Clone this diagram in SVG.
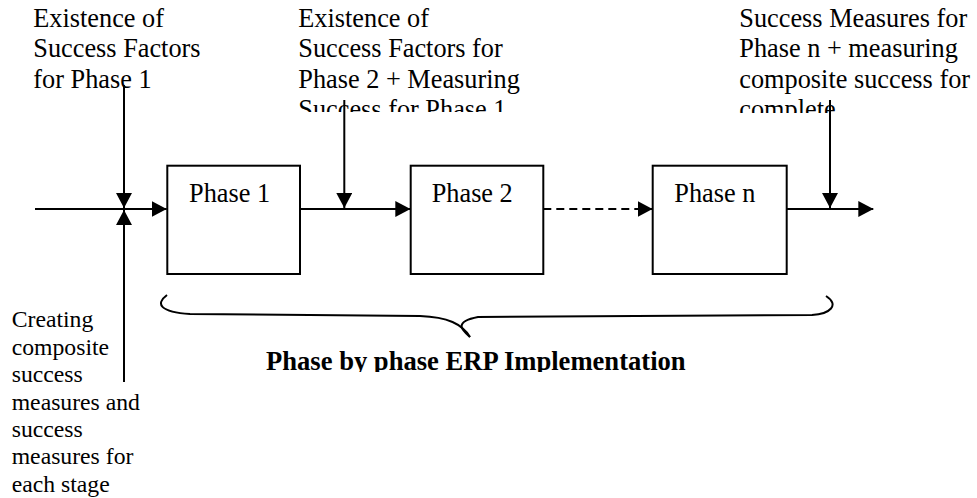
<svg xmlns="http://www.w3.org/2000/svg" width="977" height="498" viewBox="0 0 977 498">
<style>
text{font-family:"Liberation Serif","Times New Roman",serif;fill:#000}
.t{font-size:26.3px}
.s{font-size:23.7px}
.b{font-size:26.6px;font-weight:bold}
.box{fill:#fff;stroke:#000;stroke-width:2}
.ln{stroke:#000;stroke-width:2;fill:none}
.dash{stroke-dasharray:8 5}
</style>
<defs>
<marker id="ah" viewBox="0 0 15 16" markerWidth="15" markerHeight="16" refX="15" refY="8" orient="auto" markerUnits="userSpaceOnUse">
<path d="M0,0 L15,8 L0,16 Z" fill="#000"/>
</marker>
<clipPath id="c2"><rect x="290" y="0" width="260" height="112"/></clipPath>
<clipPath id="c3"><rect x="730" y="0" width="247" height="113"/></clipPath>
<clipPath id="cb"><rect x="240" y="330" width="480" height="42"/></clipPath>
</defs>
<rect width="977" height="498" fill="#fff"/>
<g id="label-phase1-factors">
<text class="t" x="33.3" y="26.7">Existence of</text>
<text class="t" x="33.3" y="57.2">Success Factors</text>
<text class="t" x="33.3" y="87.7">for Phase 1</text>
</g>
<g id="label-phase2-factors" clip-path="url(#c2)">
<text class="t" x="298.3" y="26.7">Existence of</text>
<text class="t" x="298.3" y="57.2">Success Factors for</text>
<text class="t" x="298.3" y="87.7">Phase 2 + Measuring</text>
<text class="t" x="298.3" y="118.2">Success for Phase 1</text>
</g>
<g id="label-phasen-measures" clip-path="url(#c3)">
<text class="t" x="739.3" y="26.7">Success Measures for</text>
<text class="t" x="739.3" y="57.2">Phase n + measuring</text>
<text class="t" x="739.3" y="87.7">composite success for</text>
<text class="t" x="739.3" y="118.2">complete</text>
</g>
<g id="label-creating">
<text class="s" x="11.7" y="327.3">Creating</text>
<text class="s" x="11.7" y="354.7">composite</text>
<text class="s" x="11.7" y="382.1">success</text>
<text class="s" x="11.7" y="409.5">measures and</text>
<text class="s" x="11.7" y="436.9">success</text>
<text class="s" x="11.7" y="464.3">measures for</text>
<text class="s" x="11.7" y="491.7">each stage</text>
</g>
<g id="phase1">
<rect class="box" x="167.3" y="165.7" width="132.7" height="108.3"/>
<text class="t" x="189" y="202">Phase 1</text>
</g>
<g id="phase2">
<rect class="box" x="410.7" y="165.7" width="132.6" height="108.3"/>
<text class="t" x="431.7" y="202">Phase 2</text>
</g>
<g id="phasen">
<rect class="box" x="652.7" y="165.7" width="134" height="108.3"/>
<text class="t" x="674.3" y="202">Phase n</text>
</g>
<g id="connectors">
<line class="ln" x1="35" y1="209" x2="166.7" y2="209" marker-end="url(#ah)"/>
<line class="ln" x1="124" y1="85" x2="124" y2="208" marker-end="url(#ah)"/>
<line class="ln" x1="124" y1="382" x2="124" y2="210" marker-end="url(#ah)"/>
<line class="ln" x1="300.7" y1="209" x2="410.3" y2="209" marker-end="url(#ah)"/>
<line class="ln" x1="344.3" y1="100" x2="344.3" y2="208" marker-end="url(#ah)"/>
<line class="ln dash" x1="543.3" y1="209" x2="652.5" y2="209" marker-end="url(#ah)"/>
<line class="ln" x1="786.7" y1="209" x2="873.3" y2="209" marker-end="url(#ah)"/>
<line class="ln" x1="830" y1="100" x2="830" y2="208" marker-end="url(#ah)"/>
</g>
<g id="brace">
<path class="ln" d="M167,295 C155,304 160,312 190,314 L420,316 C448,317 462,324 470,337"/>
<path class="ln" d="M470,337 C463,331 452,322 478,317 L812,315 C830,314 840,305 826,296"/>
</g>
<g id="title" clip-path="url(#cb)">
<text class="b" x="266" y="370">Phase by phase ERP Implementation</text>
</g>
</svg>
